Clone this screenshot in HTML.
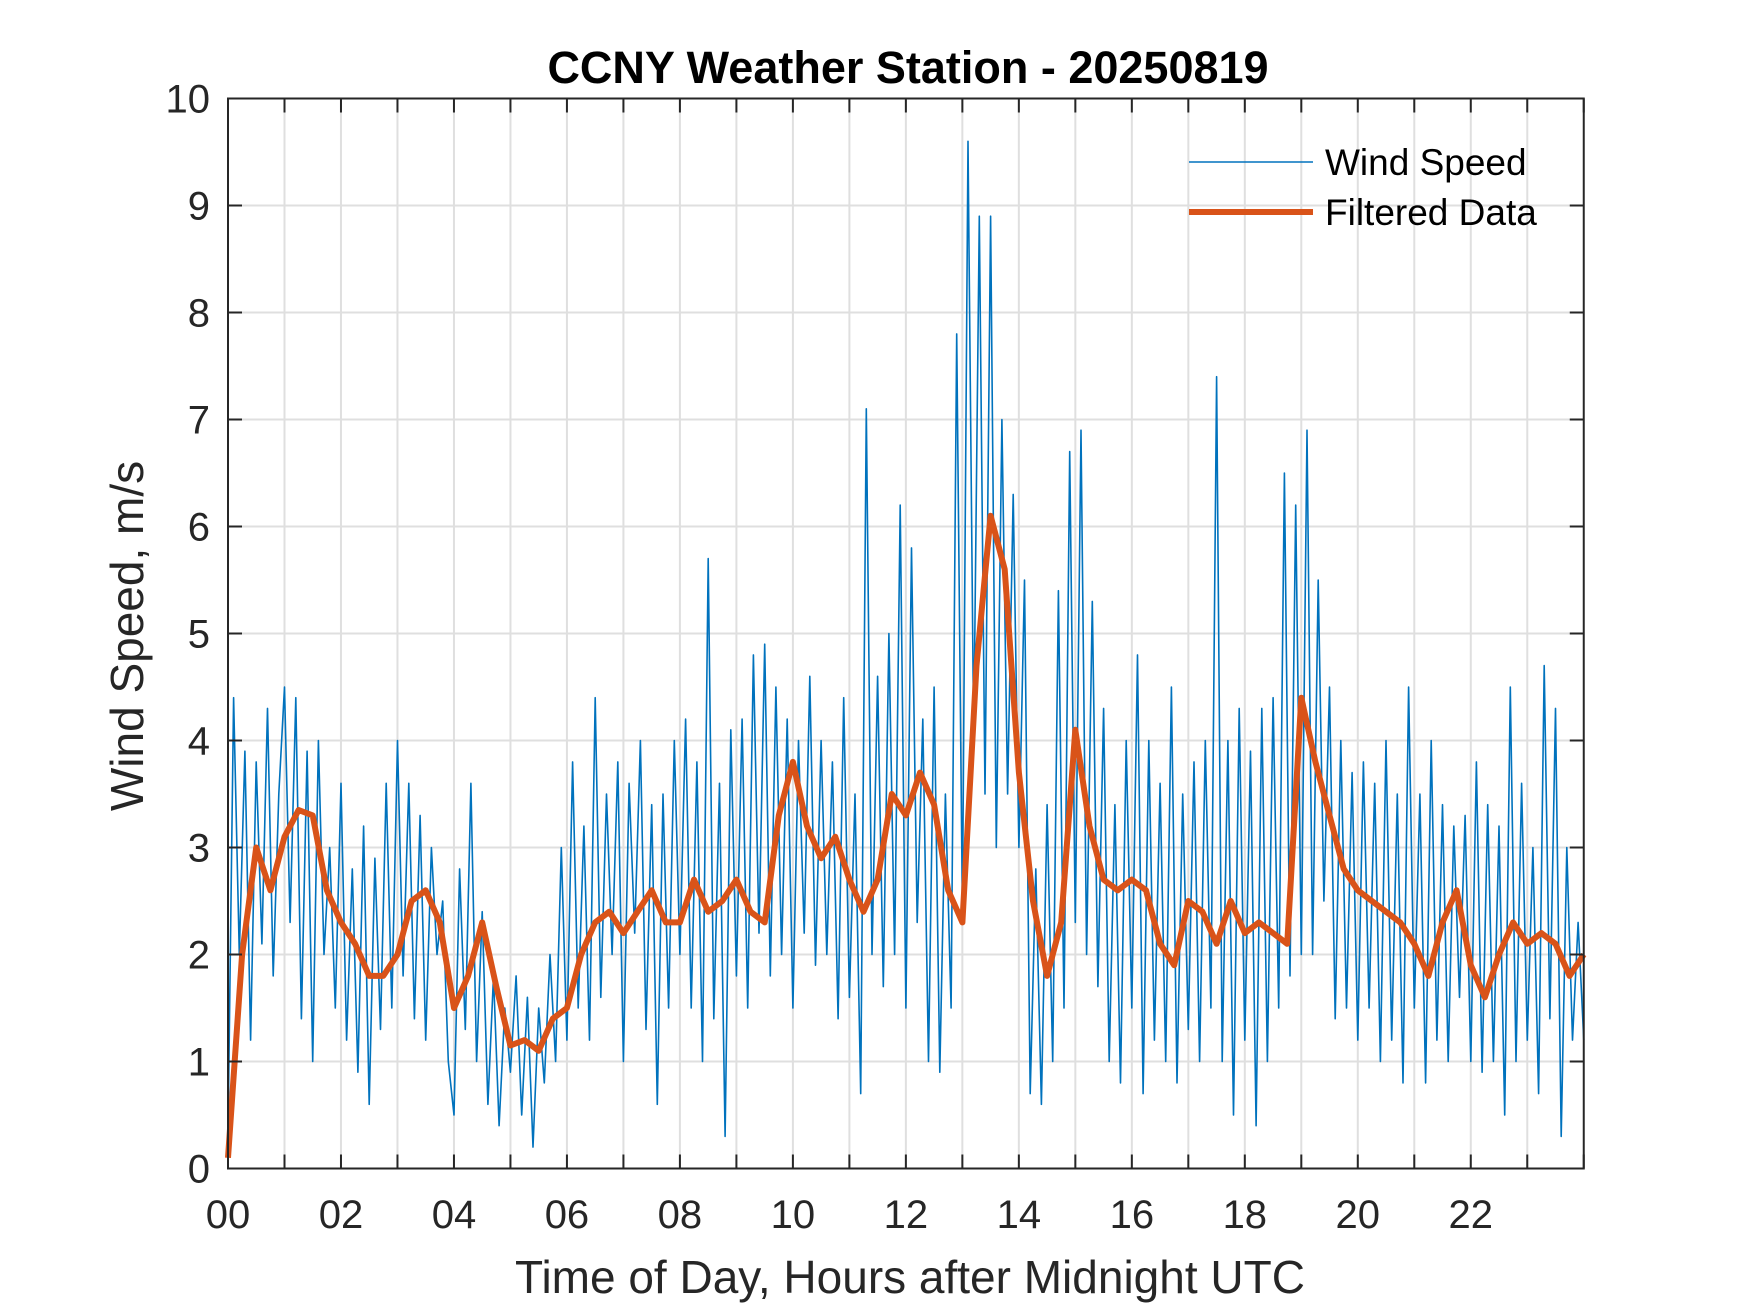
<!DOCTYPE html>
<html><head><meta charset="utf-8"><style>
html,body{margin:0;padding:0;background:#fff;}
svg{display:block;font-family:"Liberation Sans",Arial,sans-serif;}
</style></head><body>
<svg id="chart" width="1750" height="1313" viewBox="0 0 1750 1313" xmlns="http://www.w3.org/2000/svg">
<rect width="1750" height="1313" fill="#fff"/>
<rect x="228" y="98.5" width="1356" height="1070" fill="#fff"/>
<g id="grid"></g>
<g id="series"></g>
<g id="axes"></g>
<text x="908" y="83" font-size="45" font-weight="bold" text-anchor="middle" fill="#000">CCNY Weather Station - 20250819</text>
<text x="910" y="1293" font-size="46" text-anchor="middle" fill="#262626">Time of Day, Hours after Midnight UTC</text>
<text transform="translate(143,636) rotate(-90)" font-size="46" text-anchor="middle" fill="#262626">Wind Speed, m/s</text>
<g>
<line x1="1189" y1="162" x2="1313" y2="162" stroke="#0072BD" stroke-width="1.5"/>
<text x="1325" y="175" font-size="37" fill="#000">Wind Speed</text>
<line x1="1189" y1="212" x2="1313" y2="212" stroke="#D95319" stroke-width="6"/>
<text x="1325" y="225" font-size="37" fill="#000">Filtered Data</text>
</g>
</svg>
<script>
const xTickLabels = ["00","02","04","06","08","10","12","14","16","18","20","22"];
const yTickLabels = ["0","1","2","3","4","5","6","7","8","9","10"];
const windSpeed = [
0.3,4.4,2.0,3.9,1.2,3.8,2.1,4.3,1.8,3.5,
4.5,2.3,4.4,1.4,3.9,1.0,4.0,2.0,3.0,1.5,
3.6,1.2,2.8,0.9,3.2,0.6,2.9,1.3,3.6,1.5,
4.0,1.8,3.6,1.4,3.3,1.2,3.0,2.0,2.5,1.0,
0.5,2.8,1.3,3.6,1.0,2.4,0.6,1.8,0.4,1.5,
0.9,1.8,0.5,1.6,0.2,1.5,0.8,2.0,1.0,3.0,
1.2,3.8,1.5,3.2,1.2,4.4,1.6,3.5,2.0,3.8,
1.0,3.6,2.2,4.0,1.3,3.4,0.6,3.5,1.5,4.0,
2.0,4.2,1.5,3.8,1.0,5.7,1.4,3.6,0.3,4.1,
1.8,4.2,1.5,4.8,2.2,4.9,1.8,4.5,2.0,4.2,
1.5,4.0,2.2,4.6,1.9,4.0,2.0,3.8,1.4,4.4,
1.6,3.5,0.7,7.1,2.0,4.6,1.7,5.0,2.0,6.2,
1.5,5.8,2.3,4.2,1.0,4.5,0.9,3.5,1.5,7.8,
2.4,9.6,4.0,8.9,3.5,8.9,3.0,7.0,3.5,6.3,
3.0,5.5,0.7,2.8,0.6,3.4,1.0,5.4,1.5,6.7,
2.3,6.9,2.0,5.3,1.7,4.3,1.0,3.4,0.8,4.0,
1.5,4.8,0.7,4.0,1.2,3.6,1.0,4.5,0.8,3.5,
1.3,3.8,1.0,4.0,1.5,7.4,1.0,4.0,0.5,4.3,
1.2,3.9,0.4,4.3,1.0,4.4,1.5,6.5,1.8,6.2,
2.0,6.9,2.0,5.5,2.5,4.5,1.4,4.0,1.5,3.7,
1.2,3.8,1.5,3.6,1.0,4.0,1.2,3.5,0.8,4.5,
1.5,3.5,0.8,4.0,1.2,3.4,1.0,3.2,1.6,3.3,
1.0,3.8,0.9,3.4,1.0,3.2,0.5,4.5,1.0,3.6,
1.2,3.0,0.7,4.7,1.4,4.3,0.3,3.0,1.2,2.3,
1.2];
const filtered = [
0.1,2.0,3.0,2.6,3.1,3.35,3.3,2.6,2.3,2.1,1.8,1.8,2.0,2.5,2.6,2.3,
1.5,1.8,2.3,1.7,1.15,1.2,1.1,1.4,1.5,2.0,2.3,2.4,2.2,2.4,2.6,2.3,
2.3,2.7,2.4,2.5,2.7,2.4,2.3,3.3,3.8,3.2,2.9,3.1,2.7,2.4,2.7,3.5,
3.3,3.7,3.4,2.6,2.3,4.7,6.1,5.6,3.7,2.5,1.8,2.3,4.1,3.2,2.7,2.6,
2.7,2.6,2.1,1.9,2.5,2.4,2.1,2.5,2.2,2.3,2.2,2.1,4.4,3.8,3.3,2.8,
2.6,2.5,2.4,2.3,2.1,1.8,2.3,2.6,1.9,1.6,2.0,2.3,2.1,2.2,2.1,1.8,2.0];

const L=228,R=1583.75,T=98.5,B=1168.5;
const xScale=h=>L+(h/24)*(R-L);
const yScale=v=>B-(v/10)*(B-T);
const NS="http://www.w3.org/2000/svg";
function mk(tag,attrs,parent){const e=document.createElementNS(NS,tag);for(const k in attrs)e.setAttribute(k,attrs[k]);parent.appendChild(e);return e;}
const grid=document.getElementById('grid'),series=document.getElementById('series'),axes=document.getElementById('axes');
for(let h=1;h<24;h++){const x=xScale(h);
 const g=mk('line',{x1:x,y1:T,x2:x,y2:B,stroke:'#dfdfdf','stroke-width':2},grid);
 
 }
for(let v=1;v<10;v++){const y=yScale(v);
 const g=mk('line',{x1:L,y1:y,x2:R,y2:y,stroke:'#dfdfdf','stroke-width':2},grid);
 
 }
const n=windSpeed.length;
const wp=windSpeed.map((v,i)=>xScale(i*24/(n-1)).toFixed(1)+','+yScale(v).toFixed(1)).join(' ');
const w=mk('polyline',{points:wp,fill:'none',stroke:'#0072BD','stroke-width':1.6,'stroke-linejoin':'round'},series);


const m=filtered.length;
const fp=filtered.map((v,i)=>xScale(i*24/(m-1)).toFixed(1)+','+yScale(v).toFixed(1)).join(' ');
const f=mk('polyline',{points:fp,fill:'none',stroke:'#D95319','stroke-width':6,'stroke-linejoin':'round'},series);


const box=mk('rect',{x:L,y:T,width:R-L,height:B-T,fill:'none',stroke:'#262626','stroke-width':2},axes);


for(let h=0;h<=24;h++){const x=xScale(h);
 const t1=mk('line',{x1:x,y1:B,x2:x,y2:B-14,stroke:'#262626','stroke-width':2},axes);
 
 
 const t2=mk('line',{x1:x,y1:T,x2:x,y2:T+14,stroke:'#262626','stroke-width':2},axes);
 
 }
xTickLabels.forEach((s,i)=>{const t=mk('text',{x:xScale(i*2),y:1228,'font-size':40,'text-anchor':'middle',fill:'#262626'},axes);t.textContent=s;
 
 });
yTickLabels.forEach((s,i)=>{const y=yScale(i);
 const t1=mk('line',{x1:L,y1:y,x2:L+14,y2:y,stroke:'#262626','stroke-width':2},axes);
 
 
 const t2=mk('line',{x1:R,y1:y,x2:R-14,y2:y,stroke:'#262626','stroke-width':2},axes);
 
 
 const t=mk('text',{x:210,y:y+14,'font-size':40,'text-anchor':'end',fill:'#262626'},axes);t.textContent=s;
 
 });
</script>
</body></html>
